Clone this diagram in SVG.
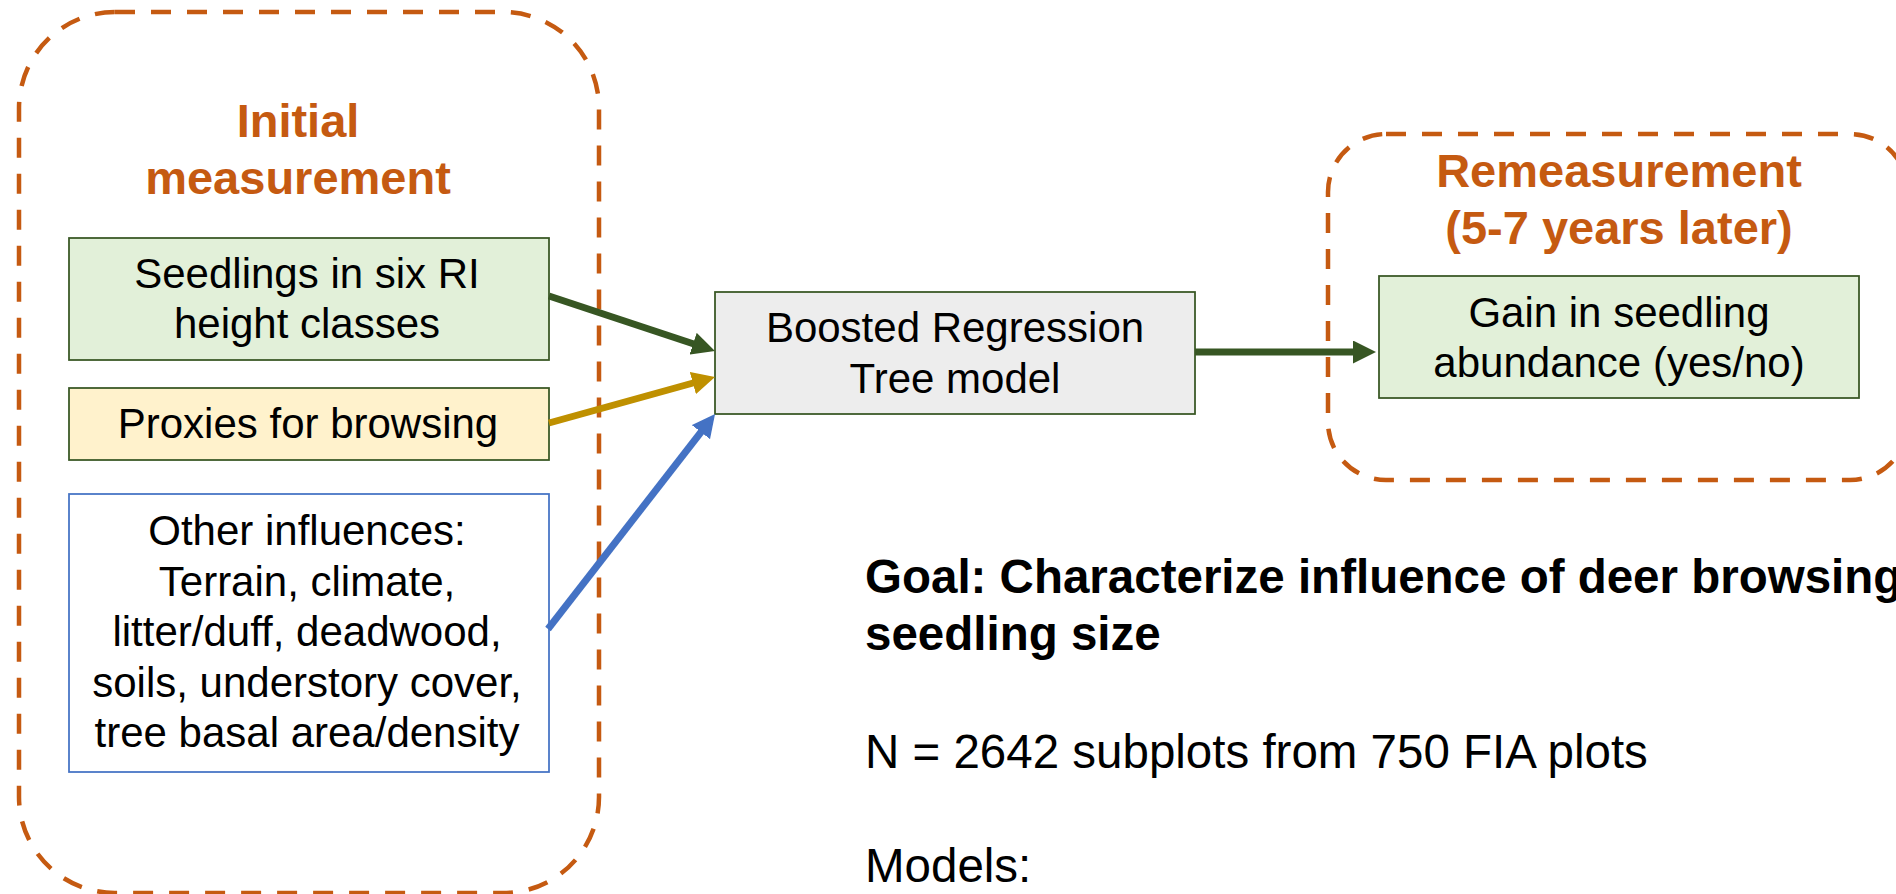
<svg xmlns="http://www.w3.org/2000/svg" width="1896" height="894" viewBox="0 0 1896 894">
<style>
  text { font-family: "Liberation Sans", Arial, sans-serif; fill: #000; }
  .title { font-size: 47px; font-weight: bold; fill: #C55A11; text-anchor: middle; }
  .lbl { font-size: 42px; text-anchor: middle; }
  .note { font-size: 47.5px; }
  .bold { font-weight: bold; }
  .group { fill: none; stroke: #C55A11; stroke-width: 4.5; stroke-dasharray: 20 16; }
  .green { fill: #E2F0D9; stroke: #375623; stroke-width: 1.75; }
  .yellow { fill: #FFF2CC; stroke: #375623; stroke-width: 1.75; }
  .grey { fill: #EDEDED; stroke: #375623; stroke-width: 1.75; }
  .white { fill: #FFFFFF; stroke: #4472C4; stroke-width: 1.75; }
  .conn { fill: none; stroke-width: 7; }
</style>
<defs>
  <marker id="hGreen" markerUnits="userSpaceOnUse" markerWidth="23" markerHeight="23" refX="4" refY="11.5" orient="auto">
    <path d="M0,0 L23,11.5 L0,23 z" fill="#375623"/>
  </marker>
  <marker id="hGold" markerUnits="userSpaceOnUse" markerWidth="23" markerHeight="23" refX="4" refY="11.5" orient="auto">
    <path d="M0,0 L23,11.5 L0,23 z" fill="#BF9000"/>
  </marker>
  <marker id="hBlue" markerUnits="userSpaceOnUse" markerWidth="23" markerHeight="23" refX="4" refY="11.5" orient="auto">
    <path d="M0,0 L23,11.5 L0,23 z" fill="#4472C4"/>
  </marker>
</defs>
<rect width="1896" height="894" fill="#FFFFFF"/>

<g id="initial-measurement">
  <rect class="group" x="19" y="12" width="580" height="881" rx="96" ry="96"/>
  <text class="title" x="298" y="137">Initial</text>
  <text class="title" x="298" y="194">measurement</text>
</g>

<g id="remeasurement">
  <rect class="group" x="1328" y="134" width="580" height="346" rx="58" ry="58"/>
  <text class="title" x="1619" y="187">Remeasurement</text>
  <text class="title" x="1619" y="244">(5-7 years later)</text>
</g>

<g id="seedlings">
  <rect class="green" x="69" y="238" width="480" height="122"/>
  <text class="lbl" x="307" y="288">Seedlings in six RI</text>
  <text class="lbl" x="307" y="338">height classes</text>
</g>

<g id="proxies">
  <rect class="yellow" x="69" y="388" width="480" height="72"/>
  <text class="lbl" x="308" y="438">Proxies for browsing</text>
</g>

<g id="other-influences">
  <rect class="white" x="69" y="494" width="480" height="278"/>
  <text class="lbl" x="307" y="545">Other influences:</text>
  <text class="lbl" x="307" y="595.5">Terrain, climate,</text>
  <text class="lbl" x="307" y="646">litter/duff, deadwood,</text>
  <text class="lbl" x="307" y="696.5">soils, understory cover,</text>
  <text class="lbl" x="307" y="747">tree basal area/density</text>
</g>

<g id="brt-model">
  <rect class="grey" x="715" y="292" width="480" height="122"/>
  <text class="lbl" x="955" y="342">Boosted Regression</text>
  <text class="lbl" x="955" y="393">Tree model</text>
</g>

<g id="gain">
  <rect class="green" x="1379" y="276" width="480" height="122"/>
  <text class="lbl" x="1619" y="327">Gain in seedling</text>
  <text class="lbl" x="1619" y="377">abundance (yes/no)</text>
</g>

<g id="connectors">
  <path class="conn" stroke="#375623" d="M549,296 L696.9,345" marker-end="url(#hGreen)"/>
  <path class="conn" stroke="#BF9000" d="M549,423 L696.7,382" marker-end="url(#hGold)"/>
  <path class="conn" stroke="#4472C4" d="M548,629 L703.4,429" marker-end="url(#hBlue)"/>
  <path class="conn" stroke="#375623" d="M1195,352 L1357,352" marker-end="url(#hGreen)"/>
</g>

<g id="notes">
  <text class="note bold" x="865" y="593">Goal: Characterize influence of deer browsing</text>
  <text class="note bold" x="865" y="650">seedling size</text>
  <text class="note" x="865" y="768">N = 2642 subplots from 750 FIA plots</text>
  <text class="note" x="865" y="882">Models:</text>
</g>
</svg>
